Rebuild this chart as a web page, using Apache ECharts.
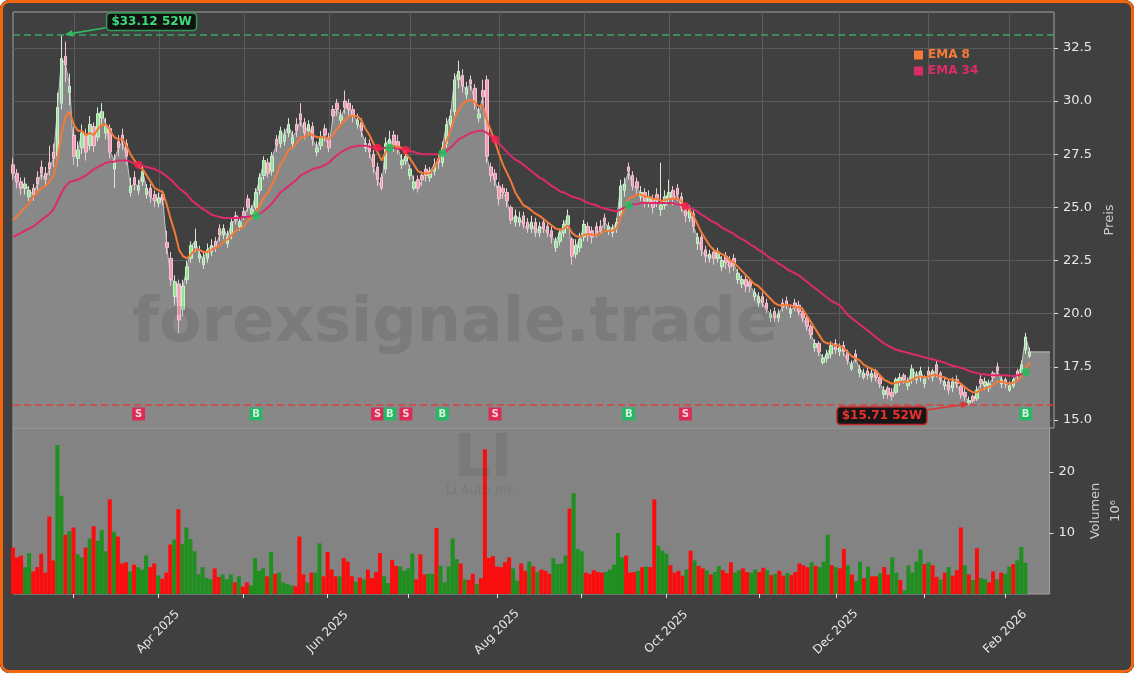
<!DOCTYPE html>
<html><head><meta charset="utf-8">
<script src="https://cdn.jsdelivr.net/npm/echarts@6/dist/echarts.min.js"></script>
<style>
html,body{margin:0;padding:0;background:#ffffff;}
#wrap{position:relative;width:1134px;height:673px;border-radius:9px;overflow:hidden;background:#404040;}
#chart{position:absolute;left:0;top:0;width:1134px;height:673px;}
#frame{position:absolute;left:0;top:0;width:1134px;height:673px;box-sizing:border-box;border:3px solid #f5650c;border-radius:9px;pointer-events:none;}
</style></head>
<body><div id="wrap"><div id="chart"></div><div id="frame"></div></div>
<script>
// ---------- categories (US trading days) ----------
const FIRST_DAY = [2025, 1, 7];   // 2025-02-07
const N_CAT = 258;
const HOLIDAYS = ['2025-02-17','2025-04-18','2025-05-26','2025-06-19','2025-07-04','2025-09-01',
  '2025-11-27','2025-12-25','2026-01-01','2026-01-19','2026-02-16'];
const MONTHS = ['Jan','Feb','Mar','Apr','May','Jun','Jul','Aug','Sep','Oct','Nov','Dec'];
const LABEL_MONTHS = [2,4,6,8,10,12];

// ---------- price data ----------
const opens = [
27.0,26.6,26.2,25.9,25.5,25.9,26.4,26.9,26.6,27.1,
27.6,27.4,29.9,32.1,30.4,28.4,27.3,27.8,28.4,27.9,
28.8,28.3,29.2,28.5,28.7,26.8,28.1,28.4,28.0,25.7,
26.4,25.8,26.2,25.6,25.9,25.6,25.2,25.6,23.35,22.6,
20.8,21.4,20.2,21.6,22.6,23.1,22.6,22.3,22.6,22.9,
23.4,24.0,23.7,23.3,23.7,24.6,24.1,24.8,25.4,24.7,
25.0,25.8,26.5,27.1,26.7,28.2,28.0,28.1,28.5,28.0,
28.9,29.4,29.0,28.6,28.8,27.6,27.9,28.7,28.3,29.6,
29.9,29.1,30.0,29.9,29.6,28.9,29.0,27.8,28.0,27.5,
26.9,26.4,26.8,28.0,28.4,28.1,27.0,27.2,26.5,25.9,
26.3,26.5,26.8,26.4,26.7,27.3,27.1,28.0,28.9,29.5,
31.0,31.2,30.3,31.0,30.6,29.2,30.5,31.0,26.9,26.6,
26.0,25.9,25.7,25.0,24.3,24.3,24.6,24.3,24.0,24.3,
23.8,24.3,24.1,23.9,23.1,23.4,23.8,24.2,23.5,22.8,
23.1,23.6,24.1,23.9,24.1,24.1,24.5,23.9,23.8,24.0,
24.6,25.8,26.9,26.5,26.2,25.5,25.7,25.2,25.4,25.6,
24.9,25.1,25.4,25.8,25.9,25.5,24.9,24.5,24.7,23.3,
23.6,23.0,22.6,22.9,22.6,22.2,22.7,22.5,22.6,21.6,
21.4,21.6,21.5,20.8,20.5,20.8,20.5,19.8,20.1,19.8,
20.5,20.6,20.0,20.5,20.4,20.1,19.8,19.4,18.4,18.6,
17.7,17.9,18.1,18.6,18.2,18.5,18.2,17.4,18.1,17.2,
17.0,17.3,17.0,17.3,17.0,16.2,16.5,16.3,16.3,16.8,
17.1,16.6,16.9,16.9,17.0,16.7,17.3,17.0,17.6,17.2,
16.6,16.8,16.5,16.9,16.6,16.3,15.8,16.1,16.0,16.9,
16.6,16.5,17.2,17.5,16.7,16.9,16.4,16.6,17.3,17.2,
18.3,18.0];
const closes = [
26.6,26.2,25.9,26.1,25.8,25.6,26.1,26.6,26.3,26.8,
27.3,29.7,32.0,31.7,30.7,27.4,27.7,28.5,27.6,28.9,
27.9,29.4,29.5,28.8,27.6,27.2,27.8,28.1,27.4,26.0,
26.1,26.0,26.7,25.9,25.5,25.3,25.45,25.35,23.1,21.6,
21.5,19.7,21.3,22.2,23.2,23.4,22.8,22.6,23.0,23.2,
23.1,23.7,24.0,23.6,24.3,24.4,24.3,24.6,25.0,24.9,
25.7,26.4,27.2,26.6,27.4,27.9,28.6,28.4,28.9,28.3,
28.6,29.1,28.5,28.9,28.2,27.8,28.3,28.4,27.8,29.3,
29.6,29.3,29.7,29.6,29.3,29.1,28.6,28.0,27.6,26.9,
26.3,25.9,28.0,28.2,27.9,27.8,27.2,27.4,26.8,26.2,
25.9,26.3,26.5,26.7,27.0,27.1,27.8,28.9,29.3,31.0,
31.4,30.7,30.6,30.8,29.9,29.4,30.2,27.4,26.5,26.3,
25.4,25.7,25.3,24.4,24.6,24.5,24.2,24.0,24.3,23.8,
24.1,24.0,23.8,23.6,23.4,23.8,24.2,24.6,22.7,23.2,
23.5,24.2,23.7,23.6,23.8,23.9,24.3,24.1,24.0,24.3,
26.0,26.1,26.7,26.0,25.9,25.7,25.3,25.5,25.0,25.3,
25.1,25.5,25.7,25.4,25.6,25.0,24.6,24.9,24.1,23.6,
23.0,22.7,22.8,22.6,22.9,22.5,22.4,22.2,22.3,21.9,
21.6,21.3,21.3,21.0,20.8,20.5,20.2,20.0,19.8,20.0,
20.3,20.4,20.2,20.3,20.1,19.8,19.4,19.0,18.6,18.2,
17.9,18.1,18.5,18.3,18.4,18.2,17.8,17.6,17.9,17.4,
17.2,17.1,17.2,17.0,16.7,16.4,16.2,16.1,16.9,17.0,
16.9,16.8,17.4,17.1,17.3,16.9,17.1,17.3,17.2,16.9,
16.8,16.4,16.8,16.7,16.2,16.1,15.9,15.9,16.4,16.7,
16.8,16.7,17.0,17.3,16.9,16.7,16.6,16.9,17.1,17.6,
18.9,18.2];
const lows = [
26.3,25.9,25.6,25.6,25.3,25.3,25.8,26.3,26.0,26.5,
26.9,27.2,29.6,30.9,29.8,27.0,26.9,27.5,27.2,27.7,
27.6,28.1,28.8,28.2,27.3,25.9,27.4,27.7,27.0,25.5,
25.8,25.6,26.0,25.4,25.2,25.0,25.0,25.1,22.8,21.3,
20.4,19.1,19.9,21.4,22.4,22.9,22.4,22.1,22.4,22.7,
22.9,23.4,23.5,23.1,23.5,24.2,23.9,24.4,24.8,24.5,
24.9,25.6,26.3,26.4,26.5,27.6,27.8,27.9,28.3,27.8,
28.3,28.8,28.2,28.4,27.9,27.4,27.7,28.1,27.6,29.0,
29.3,28.9,29.4,29.3,29.0,28.7,28.3,27.6,27.3,26.6,
26.0,25.8,26.6,27.8,27.6,27.5,26.8,27.0,26.3,25.8,
25.7,26.0,26.2,26.2,26.5,26.8,26.9,27.8,28.7,29.3,
30.6,30.4,30.1,30.5,29.6,29.0,29.9,27.1,26.2,26.0,
25.1,25.4,25.0,24.2,24.1,24.1,24.0,23.8,23.8,23.6,
23.6,23.8,23.6,23.3,22.9,23.2,23.6,24.0,22.3,22.6,
22.9,23.4,23.4,23.3,23.6,23.7,24.0,23.7,23.6,23.8,
24.4,25.5,26.3,25.8,25.6,25.3,25.0,25.0,24.7,25.0,
24.6,24.9,25.2,25.1,25.3,24.8,24.3,24.3,23.8,23.0,
22.7,22.4,22.4,22.3,22.4,22.0,22.1,21.9,22.0,21.4,
21.2,21.0,21.0,20.6,20.3,20.3,20.0,19.6,19.6,19.6,
20.1,20.2,19.8,20.1,19.9,19.6,19.2,18.8,18.2,18.0,
17.6,17.7,17.9,18.1,18.0,18.0,17.6,17.3,17.7,17.0,
16.9,16.9,16.8,16.8,16.5,16.0,16.0,15.9,16.2,16.6,
16.7,16.4,16.7,16.7,16.8,16.5,16.9,16.8,17.0,16.7,
16.4,16.2,16.3,16.5,16.0,15.9,15.71,15.8,15.9,16.5,
16.4,16.3,16.8,17.1,16.5,16.5,16.3,16.5,16.9,17.1,
18.1,17.9];
const highs = [
27.3,26.8,26.4,26.4,26.0,26.1,26.7,27.2,26.9,27.9,
28.0,30.4,33.12,32.8,31.3,28.8,28.1,28.9,28.7,29.3,
29.0,29.7,29.9,29.2,28.9,27.5,28.4,28.7,28.2,26.4,
26.7,26.3,27.0,26.1,26.1,25.8,25.7,25.8,23.9,22.9,
21.8,21.6,21.6,22.5,23.4,24.0,23.2,22.9,23.3,23.5,
23.6,24.2,24.2,23.9,24.5,24.8,24.5,25.0,25.6,25.1,
25.9,26.6,27.4,27.3,27.6,28.4,28.8,28.7,29.2,28.6,
29.2,29.9,29.2,29.1,29.0,28.1,28.6,28.9,28.5,29.8,
30.1,29.6,30.5,30.1,29.8,29.4,29.2,28.3,28.2,27.7,
27.1,26.6,28.3,28.6,28.6,28.4,27.5,27.7,27.0,26.5,
26.5,26.7,27.0,26.9,27.3,27.5,28.1,29.2,29.6,31.3,
31.9,31.5,30.9,31.2,30.8,29.7,31.0,31.2,27.1,26.8,
26.2,26.1,25.9,25.1,24.9,24.8,24.8,24.5,24.6,24.5,
24.3,24.5,24.3,24.1,23.6,24.0,24.4,24.9,23.6,23.5,
23.8,24.4,24.3,24.1,24.3,24.4,24.7,24.3,24.2,24.5,
26.3,26.4,27.1,26.7,26.4,26.0,25.9,25.8,25.6,25.9,
27.1,25.8,26.3,26.0,26.1,25.7,25.1,25.1,24.9,23.8,
23.8,23.2,23.0,23.1,23.1,22.7,22.9,22.7,22.8,22.1,
21.8,21.8,21.7,21.2,21.0,21.0,20.7,20.2,20.3,20.2,
20.7,20.8,20.4,20.7,20.6,20.3,19.9,19.5,18.8,18.7,
18.1,18.3,18.7,18.8,18.6,18.7,18.3,17.8,18.3,17.6,
17.4,17.5,17.4,17.4,17.1,16.6,16.6,16.5,17.0,17.2,
17.2,17.0,17.6,17.3,17.5,17.1,17.5,17.4,17.8,17.3,
17.0,16.9,17.0,17.1,16.7,16.5,16.1,16.2,16.6,17.1,
17.0,16.9,17.3,17.7,17.1,17.0,16.8,17.0,17.4,17.8,
19.1,18.4];
// volume in millions
const volumes = [
7.6,6.0,6.3,4.4,6.7,3.7,4.4,6.6,3.5,12.7,
5.5,24.4,16.1,9.7,10.3,10.9,6.5,6.0,7.6,9.1,
11.1,8.7,10.5,7.0,15.5,10.2,9.4,5.0,5.2,3.7,
4.8,4.4,4.0,6.3,4.4,5.0,3.05,2.5,3.5,8.1,
8.9,13.9,8.2,10.9,9.0,7.0,3.2,4.4,2.6,2.4,
4.2,2.8,3.2,2.4,3.2,1.9,2.9,1.2,1.9,1.4,
5.9,3.8,4.2,2.9,6.9,3.3,3.5,1.9,1.6,1.4,
1.3,9.4,3.2,1.9,3.5,3.5,8.3,2.9,6.9,4.0,
2.9,2.9,5.9,5.3,2.9,2.0,2.7,2.4,4.0,2.6,
3.6,6.7,2.9,1.8,5.6,4.6,4.5,3.8,4.2,6.6,
2.4,6.5,3.2,3.3,3.3,10.8,4.6,1.9,4.5,9.1,
5.7,5.0,2.4,2.3,3.3,1.6,2.6,23.7,5.9,6.2,
4.5,4.4,5.2,6.0,4.2,2.2,5.0,3.8,5.3,4.5,
3.6,4.0,3.8,3.3,5.9,4.9,5.0,6.3,14.0,16.5,
7.4,7.0,3.5,3.3,3.9,3.6,3.5,3.6,4.0,4.8,
10.0,6.0,6.3,3.5,3.6,3.8,4.4,4.5,4.4,15.5,
7.9,7.1,6.6,4.7,3.5,3.8,3.0,4.0,7.1,5.5,
4.6,4.2,3.9,3.2,3.6,4.6,3.9,3.4,5.2,3.5,
3.9,4.2,3.6,3.5,4.0,3.6,4.3,3.9,3.1,3.3,
3.8,3.0,3.4,3.1,3.6,5.0,4.7,4.4,5.2,4.6,
4.4,5.3,9.7,4.7,4.4,4.2,7.4,4.7,3.2,2.1,
5.3,2.6,4.5,2.9,2.9,3.4,4.4,3.2,6.0,3.5,
2.3,0.6,4.7,3.5,5.3,7.3,4.9,5.2,4.7,2.8,
2.4,3.5,4.4,3.0,3.9,10.9,4.7,3.2,2.3,7.5,
2.6,2.4,1.9,3.7,2.4,3.5,3.3,4.5,4.9,5.5,
7.7,5.1];
const ema8 = [
24.4,24.6,24.8,25.0,25.2,25.5,25.7,25.9,26.0,26.2,
26.5,27.3,28.5,29.3,29.5,28.9,28.6,28.6,28.4,28.5,
28.4,28.7,28.9,28.9,28.6,28.3,28.2,28.2,27.9,27.5,
27.2,26.9,26.8,26.5,26.2,25.9,25.8,25.7,25.1,24.4,
23.8,23.0,22.7,22.6,22.8,23.0,23.0,22.9,22.9,23.0,
23.1,23.2,23.4,23.5,23.7,23.9,24.0,24.1,24.4,24.5,
24.8,25.1,25.5,25.7,26.1,26.5,27.0,27.3,27.7,27.8,
28.0,28.3,28.3,28.5,28.4,28.3,28.3,28.3,28.2,28.4,
28.7,28.9,29.1,29.3,29.3,29.3,29.1,28.7,28.4,28.0,
27.6,27.2,27.6,27.9,27.9,27.85,27.8,27.5,27.3,27.0,
26.7,26.6,26.6,26.6,26.9,27.25,27.65,28.1,28.6,29.2,
29.6,29.85,30.0,30.05,29.95,29.75,29.8,29.1,28.6,28.1,
27.5,27.0,26.6,26.2,25.7,25.4,25.1,25.0,24.85,24.7,
24.6,24.45,24.3,24.15,24.0,23.95,24.0,24.15,23.8,23.65,
23.6,23.7,23.75,23.7,23.7,23.75,23.9,23.9,23.9,24.0,
24.5,24.95,25.4,25.5,25.6,25.6,25.5,25.5,25.4,25.4,
25.3,25.35,25.4,25.4,25.4,25.3,25.0,24.9,24.6,24.2,
23.8,23.5,23.2,23.0,22.9,22.8,22.7,22.5,22.4,22.2,
22.0,21.8,21.6,21.4,21.3,21.1,20.9,20.7,20.5,20.4,
20.4,20.4,20.4,20.3,20.3,20.2,19.9,19.6,19.3,19.0,
18.7,18.6,18.6,18.5,18.5,18.4,18.2,18.0,17.9,17.8,
17.6,17.5,17.4,17.3,17.1,16.9,16.8,16.7,16.75,16.8,
16.8,16.8,16.9,17.0,17.05,17.0,17.05,17.1,17.1,17.05,
17.0,16.9,16.9,16.85,16.7,16.55,16.4,16.3,16.3,16.4,
16.5,16.55,16.65,16.8,16.8,16.75,16.7,16.75,16.85,17.05,
17.45,17.7];
const ema34 = [
23.6,23.7,23.8,23.9,24.0,24.1,24.25,24.4,24.55,24.7,
24.9,25.3,25.7,26.0,26.2,26.25,26.3,26.4,26.5,26.65,
26.8,26.9,27.0,27.1,27.15,27.15,27.2,27.2,27.2,27.15,
27.05,27.0,26.95,26.9,26.85,26.8,26.7,26.6,26.45,26.3,
26.1,25.9,25.75,25.6,25.35,25.2,25.05,24.9,24.8,24.65,
24.6,24.55,24.5,24.5,24.5,24.5,24.5,24.55,24.55,24.6,
24.6,24.7,24.85,25.0,25.2,25.45,25.7,25.85,26.0,26.15,
26.3,26.5,26.6,26.7,26.8,26.85,26.9,27.0,27.1,27.3,
27.45,27.6,27.7,27.8,27.85,27.9,27.9,27.9,27.85,27.8,
27.8,27.75,27.8,27.8,27.8,27.75,27.75,27.7,27.65,27.6,
27.55,27.5,27.5,27.5,27.5,27.5,27.55,27.65,27.8,28.0,
28.2,28.3,28.4,28.5,28.55,28.6,28.6,28.5,28.35,28.2,
28.0,27.8,27.6,27.4,27.25,27.15,27.0,26.85,26.7,26.55,
26.4,26.3,26.15,26.0,25.9,25.75,25.7,25.6,25.5,25.45,
25.4,25.3,25.2,25.15,25.1,25.0,24.95,24.9,24.85,24.8,
24.9,25.0,25.1,25.15,25.15,25.2,25.2,25.2,25.2,25.2,
25.2,25.2,25.2,25.2,25.15,25.1,25.05,25.0,24.9,24.8,
24.65,24.55,24.4,24.3,24.2,24.05,23.95,23.85,23.75,23.6,
23.5,23.4,23.25,23.15,23.0,22.9,22.75,22.6,22.5,22.35,
22.25,22.1,22.0,21.9,21.8,21.65,21.5,21.35,21.2,21.05,
20.9,20.75,20.6,20.5,20.4,20.2,19.95,19.8,19.65,19.5,
19.35,19.2,19.05,18.9,18.75,18.6,18.5,18.4,18.3,18.25,
18.2,18.15,18.1,18.05,18.0,17.95,17.9,17.85,17.8,17.75,
17.7,17.6,17.55,17.5,17.45,17.4,17.3,17.25,17.2,17.15,
17.15,17.1,17.1,17.1,17.1,17.1,17.08,17.07,17.1,17.15,
17.25,17.3];
const signalIdx  = [31, 60, 90, 93, 97, 106, 119, 152, 166, 250];
const signalType = ['S','B','S','B','S','B','S','B','S','B'];
const HIGH_52 = 33.12, HIGH_IDX = 12;
const LOW_52 = 15.71, LOW_IDX = 236;
const PRICE_TICKS = [15, 17.5, 20, 22.5, 25, 27.5, 30, 32.5];
const VOL_TICKS = [10, 20];

// ---------- styling constants ----------
const PRICE_MIN = 14.62, PRICE_MAX = 34.19, VOL_MAX = 27.2, SIGNAL_Y = 15.28;
const C_EMA8 = '#f47a38', C_EMA34 = '#dd2a6a';
const C_UPVOL = '#1f8f1f', C_DNVOL = '#fb0d0d';
const C_S = '#f0154a', C_B = '#10c45c';
const FONT = 'DejaVu Sans';

// build categories
const dates = [];
(function () {
  const d = new Date(Date.UTC(FIRST_DAY[0], FIRST_DAY[1], FIRST_DAY[2]));
  while (dates.length < N_CAT) {
    const wd = d.getUTCDay();
    const s = d.toISOString().slice(0, 10);
    if (wd !== 0 && wd !== 6 && HOLIDAYS.indexOf(s) < 0) dates.push(s);
    d.setUTCDate(d.getUTCDate() + 1);
  }
})();
const monthStart = new Set(), labelStart = new Set();
for (let j = 1; j < dates.length; j++) {
  if (dates[j].slice(0, 7) !== dates[j - 1].slice(0, 7)) {
    monthStart.add(j);
    if (LABEL_MONTHS.indexOf(+dates[j].slice(5, 7)) >= 0) labelStart.add(j);
  }
}
const fmtDate = v => MONTHS[+v.slice(5, 7) - 1] + ' ' + v.slice(0, 4);

const candleData = opens.map((o, j) => [o, closes[j], lows[j], highs[j]]);
const volData = volumes.map((v, j) => ({ value: v, itemStyle: { color: closes[j] >= opens[j] ? C_UPVOL : C_DNVOL } }));
const areaData = closes.slice();
while (areaData.length < N_CAT - 1) areaData.push(closes[closes.length - 1]);

const chart = echarts.init(document.getElementById('chart'), null, { renderer: 'canvas' });
chart.setOption({
  animation: false,
  backgroundColor: '#404040',
  textStyle: { fontFamily: FONT },
  grid: [
    { left: 13, top: 12, width: 1041, height: 416, show: true, borderColor: '#a3a3a3', borderWidth: 1, backgroundColor: 'transparent' },
    { left: 13, top: 428, width: 1041, height: 166, show: true, borderColor: '#a3a3a3', borderWidth: 1, backgroundColor: '#838383' }
  ],
  legend: {
    data: [{ name: 'EMA 8', textStyle: { color: C_EMA8 } }, { name: 'EMA 34', textStyle: { color: C_EMA34 } }],
    orient: 'vertical', left: 914, top: 49, padding: 0, icon: 'rect', itemWidth: 9, itemHeight: 9, itemGap: 4,
    selectedMode: false, textStyle: { fontWeight: 'bold', fontSize: 12, fontFamily: FONT }
  },
  xAxis: [
    { gridIndex: 0, type: 'category', data: dates, boundaryGap: false,
      axisLine: { show: false }, axisTick: { show: false }, axisLabel: { show: false },
      splitLine: { show: true, interval: i => monthStart.has(i), lineStyle: { color: '#5b5b5b', width: 1 } } },
    { gridIndex: 1, type: 'category', data: dates, boundaryGap: false,
      axisLine: { show: false },
      axisTick: { show: true, interval: i => monthStart.has(i), length: 4, lineStyle: { color: '#e0e0e0' } },
      axisLabel: { interval: i => labelStart.has(i), rotate: 45, align: 'center', verticalAlign: 'middle', margin: 38,
        color: '#e8e8e8', fontSize: 12, fontFamily: FONT, formatter: fmtDate },
      splitLine: { show: false } }
  ],
  yAxis: [
    { gridIndex: 0, type: 'value', position: 'right', min: PRICE_MIN, max: PRICE_MAX,
      axisLine: { show: false },
      axisTick: { show: true, length: 4, customValues: PRICE_TICKS, lineStyle: { color: '#e0e0e0' } },
      axisLabel: { customValues: PRICE_TICKS, formatter: v => v.toFixed(1), color: '#e8e8e8', fontSize: 13, margin: 9, fontFamily: FONT },
      splitLine: { show: true, lineStyle: { color: '#5b5b5b', width: 1 } },
      name: 'Preis', nameLocation: 'middle', nameRotate: 90, nameGap: 44,
      nameTextStyle: { color: '#cccccc', fontSize: 13, fontFamily: FONT } },
    { gridIndex: 1, type: 'value', position: 'right', min: 0, max: VOL_MAX,
      axisLine: { show: false },
      axisTick: { show: true, length: 4, customValues: VOL_TICKS, lineStyle: { color: '#e0e0e0' } },
      axisLabel: { customValues: VOL_TICKS, formatter: v => String(v), color: '#e8e8e8', fontSize: 13, margin: 9, fontFamily: FONT },
      splitLine: { show: false },
      name: 'Volumen\n10⁶', nameLocation: 'middle', nameRotate: 90, nameGap: 26,
      nameTextStyle: { color: '#cccccc', fontSize: 13, lineHeight: 20, fontFamily: FONT } }
  ],
  series: [
    { name: 'Close', type: 'line', xAxisIndex: 0, yAxisIndex: 0, data: areaData, symbol: 'none', silent: true, z: 1,
      lineStyle: { color: '#c4c4c4', width: 1 }, areaStyle: { color: '#888888', opacity: 1, origin: 'start' } },
    { name: 'OHLC', type: 'candlestick', xAxisIndex: 0, yAxisIndex: 0, data: candleData, barWidth: 3, z: 3, silent: true,
      itemStyle: { color: '#8ee68e', color0: '#f59ab3', borderColor: '#d4ead4', borderColor0: '#efc6d2', borderWidth: 1 },
      markLine: { symbol: ['none', 'none'], silent: true, label: { show: false },
        data: [ { yAxis: HIGH_52, lineStyle: { color: '#3aa865', type: [7, 4], width: 1.5 } },
                { yAxis: LOW_52, lineStyle: { color: '#d9403f', type: [7, 4], width: 1.5 } } ] } },
    { name: 'EMA 8', type: 'line', xAxisIndex: 0, yAxisIndex: 0, data: ema8, symbol: 'none', z: 4,
      itemStyle: { color: C_EMA8 }, lineStyle: { color: C_EMA8, width: 2 } },
    { name: 'EMA 34', type: 'line', xAxisIndex: 0, yAxisIndex: 0, data: ema34, symbol: 'none', z: 4,
      itemStyle: { color: C_EMA34 }, lineStyle: { color: C_EMA34, width: 2 } },
    { name: 'Cross', type: 'scatter', xAxisIndex: 0, yAxisIndex: 0, symbolSize: 8, z: 5, silent: true,
      data: signalIdx.map((j, k) => ({ value: [j, ema34[j]], itemStyle: { color: signalType[k] === 'S' ? '#ff1f4b' : '#12c95c' } })) },
    { name: 'Signal', type: 'scatter', xAxisIndex: 0, yAxisIndex: 0, symbol: 'rect', symbolSize: 13, z: 6, silent: true,
      label: { show: true, position: 'inside', color: '#ffffff', fontSize: 10, fontWeight: 'bold', fontFamily: FONT },
      data: signalIdx.map((j, k) => ({ value: [j, SIGNAL_Y], itemStyle: { color: signalType[k] === 'S' ? C_S : C_B },
        label: { formatter: signalType[k] } })) },
    { name: 'Volume', type: 'bar', xAxisIndex: 1, yAxisIndex: 1, data: volData, barWidth: 4, z: 2, silent: true }
  ]
});

// ---------- annotations positioned through the chart's scales ----------
function arrow(x1, y1, x2, y2, color) {
  const a = Math.atan2(y2 - y1, x2 - x1), L = 8, W = 3.5;
  const bx = x2 - L * Math.cos(a), by = y2 - L * Math.sin(a);
  const px = -Math.sin(a) * W, py = Math.cos(a) * W;
  return [
    { type: 'line', z: 60, shape: { x1: x1, y1: y1, x2: bx, y2: by }, style: { stroke: color, lineWidth: 1.6 } },
    { type: 'polygon', z: 60, shape: { points: [[x2, y2], [bx + px, by + py], [bx - px, by - py]] }, style: { fill: color } }
  ];
}
const pHi = chart.convertToPixel({ gridIndex: 0 }, [HIGH_IDX, HIGH_52]);
const pLo = chart.convertToPixel({ gridIndex: 0 }, [LOW_IDX, LOW_52]);
const g = [
  { type: 'text', z: 50, silent: true, style: { text: 'forexsignale.trade', x: 455, y: 325, align: 'center', verticalAlign: 'middle',
      font: 'bold 62px "DejaVu Sans"', fill: 'rgba(35,35,35,0.12)' } },
  { type: 'text', z: 50, silent: true, style: { text: 'LI', x: 483, y: 461, align: 'center', verticalAlign: 'middle',
      font: 'bold 58px "DejaVu Sans"', fill: 'rgba(60,60,60,0.12)' } },
  { type: 'text', z: 50, silent: true, style: { text: 'Li Auto Inc', x: 480, y: 491, align: 'center', verticalAlign: 'middle',
      font: '13px "DejaVu Sans"', fill: 'rgba(60,60,60,0.12)' } },
  { type: 'text', z: 61, silent: true, style: { text: '$' + HIGH_52.toFixed(2) + ' 52W', x: pHi[0] + 90, y: pHi[1] - 13,
      align: 'center', verticalAlign: 'middle', font: 'bold 12px "DejaVu Sans"', fill: '#3ddc7a',
      backgroundColor: '#121212', borderColor: '#2e9e57', borderWidth: 1.5, borderRadius: 3, padding: [2, 4] } },
  { type: 'text', z: 61, silent: true, style: { text: '$' + LOW_52.toFixed(2) + ' 52W', x: pLo[0] - 87, y: pLo[1] + 11,
      align: 'center', verticalAlign: 'middle', font: 'bold 12px "DejaVu Sans"', fill: '#e8322f',
      backgroundColor: '#161616', borderColor: '#b8282a', borderWidth: 1.5, borderRadius: 3, padding: [2, 4] } }
].concat(arrow(pHi[0] + 44, pHi[1] - 7, pHi[0] + 3, pHi[1], '#35b865'))
 .concat(arrow(pLo[0] - 41, pLo[1] + 5, pLo[0], pLo[1] - 1, '#e03434'));
chart.setOption({ graphic: g });
</script></body></html>
